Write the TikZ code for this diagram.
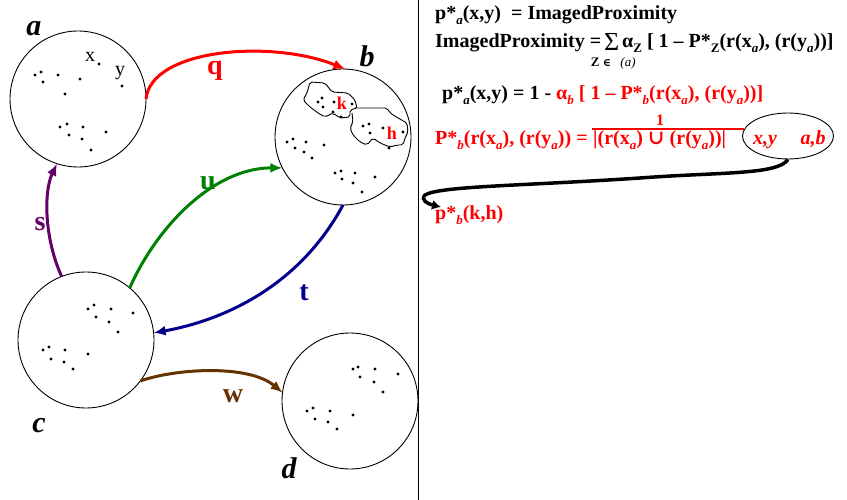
\documentclass[tikz,border=0pt]{standalone}
\usepackage{fontspec}
\setmainfont{Liberation Serif}
\newfontfamily\dvs{DejaVu Serif}
\usetikzlibrary{arrows.meta,shapes.geometric}
\definecolor{qred}{RGB}{255,0,0}
\definecolor{ugreen}{RGB}{0,128,0}
\definecolor{spurple}{RGB}{102,0,102}
\definecolor{tnavy}{RGB}{0,0,140}
\definecolor{wbrown}{RGB}{102,51,0}
\newcommand\sbi[1]{\raisebox{-5pt}{\fontsize{13}{13}\selectfont\itshape #1}}
\newcommand\sbu[1]{\raisebox{-5pt}{\fontsize{13}{13}\selectfont #1}}
\begin{document}
\begin{tikzpicture}[x=1pt,y=-1pt,
  setc/.style={circle,draw,line width=0.9pt,minimum size=136pt,inner sep=0pt,outer sep=0pt},
  setlbl/.style={anchor=base,font=\fontsize{30}{32}\selectfont\bfseries\itshape},
  arrlbl/.style={anchor=base,font=\fontsize{28}{30}\selectfont\bfseries},
  rel/.style={line width=3pt,-{Latex[length=12pt,width=10pt]}},
  txt/.style={anchor=base west,inner sep=0pt,font=\fontsize{20}{24}\selectfont\bfseries},
  small/.style={anchor=base,inner sep=0pt,font=\fontsize{13}{14}\selectfont\bfseries},
  dot/.style={fill=black},
  blob/.style={draw,line width=0.9pt,rounded corners=2pt}]
\useasboundingbox (0,0) rectangle (847,500);

% separator
\coordinate (Vt) at (418,0);
\coordinate (Vb) at (418,500);
\draw[line width=1pt] (Vt) -- (Vb);

% sets
\node[setc] (A) at (78,99) {};
\node[setc] (B) at (343,137) {};
\node[setc] (C) at (86,340) {};
\node[setc] (D) at (350,401) {};

\node[setlbl] (la) at (34,36) {a};
\node[setlbl] (lb) at (367,67) {b};
\node[setlbl] (lc) at (39,432) {c};
\node[setlbl] (ld) at (289,478) {d};

% dots in a
\foreach \p in {(35,75),(41,72),(43,82),(58,75),(80,79),(65,94),(99,64),(122,86),
  (60,127),(67,124),(69,135),(83,127),(82,139),(106,132),(91,150)}
  \fill[dot] \p circle (1.7pt);
\node[anchor=base,font=\fontsize{20}{22}\selectfont] (lx) at (90,62) {x};
\node[anchor=base,font=\fontsize{20}{22}\selectfont] (ly) at (120,76) {y};

% blobs in b
\draw[blob] (310,82) -- (325,83) -- (332,92) -- (348,93) -- (355,100) -- (357,108)
  -- (350,110) -- (350,117) -- (340,118) -- (333,113) -- (325,117) -- (318,113)
  -- (310,107) -- (303,100) -- (307,93) -- cycle;
\draw[blob] (355,108) -- (387,108) -- (390,113) -- (398,118) -- (407,123) -- (408,132)
  -- (405,138) -- (403,145) -- (397,145) -- (390,147) -- (380,143) -- (373,138)
  -- (367,145) -- (360,142) -- (353,135) -- (350,128) -- (353,122) -- (352,113);
% dots in b
\foreach \p in {(318,102),(322,98),(323,107),(334,102),(352,104),(333,112),(341,117),
  (363,126),(369,124),(370,133),(383,128),(403,132),(389,148),
  (287,142),(293,139),(295,148),(306,142),(304,152),(312,158),(324,145),
  (335,173),(341,171),(342,179),(355,173),(353,183),(375,177),(362,192)}
  \fill[dot] \p circle (1.7pt);
\node[anchor=base,text=qred,font=\fontsize{18}{20}\selectfont\bfseries] (lk) at (342,110) {k};
\node[anchor=base,text=qred,font=\fontsize{18}{20}\selectfont\bfseries] (lh) at (392,140) {h};

% dots in c
\foreach \p in {(88,309),(94,305),(96,317),(111,309),(133,313),(109,322),(118,332),
  (43,350),(49,347),(51,359),(65,350),(64,362),(73,369),(88,354)}
  \fill[dot] \p circle (1.7pt);
% dots in d
\foreach \p in {(353,369),(358,367),(360,377),(375,369),(398,374),(374,382),(383,392),
  (307,411),(313,408),(315,419),(330,411),(328,422),(337,429),(353,415)}
  \fill[dot] \p circle (1.7pt);

% relations
\draw[rel,qred] (A.0) .. controls +(5,-50) and +(-75,-30) .. (B.88);
\draw[rel,spurple] (C.111) .. controls +(-18,-40) and +(-13,27) .. (A.252);
\draw[rel,ugreen] (C.50) .. controls +(28,-63) and +(-68,0) .. (B.207);
\draw[rel,tnavy] (B.270) .. controls +(-43,80) and +(72,-13) .. (C.6);
\draw[rel,wbrown] (C.-37) .. controls +(38,-13) and +(-33,-28) .. (D.173);

\node[arrlbl,text=qred] (lq) at (215,75) {q};
\node[arrlbl,text=spurple] (ls) at (40,230) {s};
\node[arrlbl,text=ugreen] (lu) at (208,190) {u};
\node[arrlbl,text=tnavy] (lt) at (304,300) {t};
\node[arrlbl,text=wbrown] (lw) at (233,402) {w};

% formulas
\node[txt] (f1) at (435,20) {p*\sbi{a}(x,y)\ \ = ImagedProximity};
\node[txt] (f2a) at (435,48) {ImagedProximity =};
\node[anchor=base west,inner sep=0pt,font=\fontsize{26}{28}\selectfont] (f2s) at (604,51) {Σ};
\node[small] (f2z) at (601,67) {Z {\dvs\bfseries\fontsize{11}{12}\selectfont ∈}};
\node[small,font=\fontsize{13}{14}\selectfont\itshape] (f2p) at (628,67) {(a)};
\node[txt] (f2b) at (622,48) {α\sbu{Z} [ 1 – P*\sbu{Z}(r(x\sbi{a}), (r(y\sbi{a}))]};
\node[txt] (f3) at (442,100) {p*\sbi{a}(x,y) = 1 - \textcolor{qred}{α\sbi{b} [ 1 – P*\sbi{b}(r(x\sbi{a}), (r(y\sbi{a}))]}};
\node[txt,text=qred] (f4) at (435,145) {P*\sbi{b}(r(x\sbi{a}), (r(y\sbi{a})) =};
\node[txt,text=qred] (f4d) at (593,145) {|(r(x\sbi{a}) {\dvs ∪} (r(y\sbi{a}))|};
\node[anchor=base,inner sep=0pt,text=qred,font=\fontsize{16}{18}\selectfont\bfseries] (f4n) at (660,125.5) {1};

\node[draw,ellipse,line width=0.9pt,minimum width=91pt,minimum height=46pt,inner sep=0pt] (E) at (788,136) {};
\coordinate (barL) at (592,129);
\coordinate (barR) at (744,129);
\draw[qred,line width=1.4pt] (barL) -- (barR);
\node[txt,anchor=base,text=qred,font=\fontsize{20}{24}\selectfont\bfseries\itshape] (exy) at (765,145) {x,y};
\node[txt,anchor=base,text=qred,font=\fontsize{20}{24}\selectfont\bfseries\itshape] (eab) at (813,145) {a,b};

\node[txt,text=qred] (pk) at (435,220) {p*\sbi{b}(k,h)};
\coordinate (tipK) at (441,207);
\draw[line width=3.5pt,-{Latex[length=9pt,width=10pt]}] (E.south) .. controls (778,175) and (720,172) .. (640,178)
  .. controls (520,186) and (440,186) .. (425,195) .. controls (420,200) and (428,204) .. (tipK);
\end{tikzpicture}
\end{document}
